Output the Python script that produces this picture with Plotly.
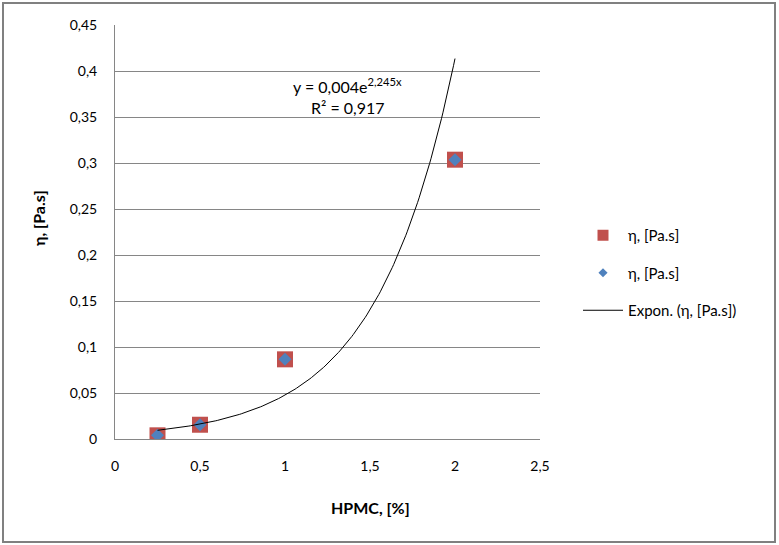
import numpy as np
import plotly.graph_objects as go

# Data
hpmc = [0.25, 0.5, 1.0, 2.0]
eta = [0.004, 0.0155, 0.0866, 0.3036]
series_name = "η, [Pa.s]"
trend_name = "Expon. (η, [Pa.s])"
# trendline coefficients as drawn in the picture
trend_a = 0.0055
trend_b = 2.16
trend_x_range = [0.25, 2.0]
x_ticks = [0, 0.5, 1, 1.5, 2, 2.5]
x_tick_labels = ["0", "0,5", "1", "1,5", "2", "2,5"]
y_ticks = [0, 0.05, 0.1, 0.15, 0.2, 0.25, 0.3, 0.35, 0.4, 0.45]
y_tick_labels = ["0", "0,05", "0,1", "0,15", "0,2", "0,25", "0,3", "0,35", "0,4", "0,45"]

FONT = "Lato, 'Open Sans', sans-serif"
W, H = 779, 545
L, R, T, B = 115, 239, 25, 106
PW, PH = W - L - R, H - T - B


def px_x(p):
    return (p - L) / PW


def px_y(p):
    return (H - B - p) / PH


tx = np.linspace(trend_x_range[0], trend_x_range[1], 200)
ty = trend_a * np.exp(trend_b * tx)

fig = go.Figure()
fig.add_trace(go.Scatter(
    x=hpmc, y=eta, mode="markers", name=series_name, showlegend=False,
    marker=dict(symbol="square", size=16, color="#C0504D", line=dict(width=0)),
))
fig.add_trace(go.Scatter(
    x=hpmc, y=eta, mode="markers", name=series_name, showlegend=False,
    marker=dict(symbol="diamond", size=10, color="#4F81BD", line=dict(width=0)),
))
fig.add_trace(go.Scatter(
    x=tx, y=ty, mode="lines", name=trend_name, showlegend=False,
    line=dict(color="black", width=1),
))
# legend entries (sized like the reference legend keys)
fig.add_trace(go.Scatter(
    x=[None], y=[None], mode="markers", name=series_name, legendgroup="a",
    marker=dict(symbol="square", size=11, color="#C0504D", line=dict(width=0)),
))
fig.add_trace(go.Scatter(
    x=[None], y=[None], mode="markers", name=series_name, legendgroup="b",
    marker=dict(symbol="diamond", size=7, color="#4F81BD", line=dict(width=0)),
))
fig.add_trace(go.Scatter(
    x=[None], y=[None], mode="lines", name=trend_name, legendgroup="c",
    line=dict(color="black", width=1),
))

fig.update_layout(
    width=W, height=H,
    margin=dict(l=L, r=R, t=T, b=B),
    paper_bgcolor="white", plot_bgcolor="white",
    font=dict(family=FONT, size=14, color="black"),
    showlegend=True,
    legend=dict(x=px_x(578), y=px_y(273), xanchor="left", yanchor="middle",
                tracegroupgap=15, itemwidth=40, font=dict(size=15, family=FONT),
                bgcolor="rgba(0,0,0,0)"),
    xaxis=dict(range=[0, 2.5], tickvals=x_ticks, ticktext=x_tick_labels,
               showgrid=False, zeroline=False, showline=True,
               linecolor="#868686", linewidth=1, ticks="",
               ticklabelstandoff=14,
               tickfont=dict(size=14, family=FONT), fixedrange=True),
    yaxis=dict(range=[0, 0.45], tickvals=y_ticks, ticktext=y_tick_labels,
               showgrid=True, gridcolor="#868686", gridwidth=1,
               zeroline=False, showline=True, linecolor="#868686",
               linewidth=1, ticks="", ticklabelstandoff=14,
               tickfont=dict(size=14, family=FONT), fixedrange=True),
    shapes=[dict(type="rect", xref="paper", yref="paper",
                 x0=px_x(3), x1=px_x(775), y0=px_y(542), y1=px_y(3),
                 line=dict(color="#808080", width=2), layer="below")],
    annotations=[
        dict(text="<b>HPMC, [%]</b>", xref="paper", yref="paper",
             x=px_x(370), y=px_y(507),
             showarrow=False, font=dict(size=16, family=FONT),
             xanchor="center", yanchor="middle"),
        dict(text="<b>η, [Pa.s]</b>", xref="paper", yref="paper",
             x=px_x(39), y=px_y(218),
             showarrow=False, textangle=-90, font=dict(size=16, family=FONT),
             xanchor="center", yanchor="middle"),
        dict(text="y = 0,004e<sup>2,245x</sup>", xref="paper", yref="paper",
             x=px_x(347), y=px_y(85),
             showarrow=False, font=dict(size=16, family=FONT),
             xanchor="center", yanchor="middle"),
        dict(text="R² = 0,917", xref="paper", yref="paper",
             x=px_x(348), y=px_y(107),
             showarrow=False, font=dict(size=16, family=FONT),
             xanchor="center", yanchor="middle"),
    ],
)

fig.write_html("out.html", config={"displayModeBar": False},
               post_script="document.body.style.margin='0';")
